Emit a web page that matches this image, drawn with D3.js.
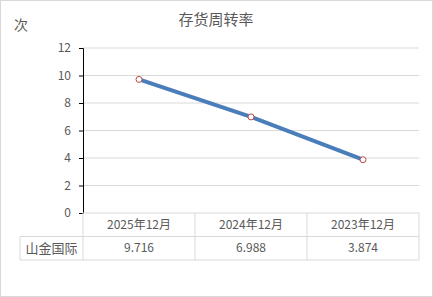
<!DOCTYPE html>
<html>
<head>
<meta charset="utf-8">
<script src="https://cdn.jsdelivr.net/npm/d3@7"></script>
<style>
  body { margin: 0; background: #fff; }
  text { font-family: "Noto Sans CJK SC", "Noto Sans", sans-serif; fill: #595959; }
</style>
</head>
<body>
<div id="chart"></div>
<script>
var categories = ["2025年12月", "2024年12月", "2023年12月"];
var values = [9.716, 6.988, 3.874];
var valueLabels = ["9.716", "6.988", "3.874"];
var seriesName = "山金国际";
var yTicks = [0, 2, 4, 6, 8, 10, 12];

var width = 433, height = 297;
var plotLeft = 83, plotRight = 419, plotTop = 48, plotBottom = 213;
var rowH = 23.5;

var svg = d3.select("#chart").append("svg")
    .attr("width", width)
    .attr("height", height);

svg.append("rect")
    .attr("x", 0.5).attr("y", 0.5)
    .attr("width", width - 1).attr("height", height - 1)
    .attr("fill", "#fff").attr("stroke", "#d9d9d9");

var x = d3.scaleBand().domain(categories).range([plotLeft, plotRight]);
var y = d3.scaleLinear().domain([0, 12]).range([plotBottom, plotTop]);

// gridlines
svg.selectAll(".grid")
    .data(yTicks.filter(function(d) { return d > 0; }))
    .enter().append("line")
    .attr("x1", plotLeft).attr("x2", plotRight)
    .attr("y1", function(d) { return y(d); })
    .attr("y2", function(d) { return y(d); })
    .attr("stroke", "#d9d9d9");

// y axis
var yAxis = d3.axisLeft(y).tickValues(yTicks).tickSize(4).tickPadding(8);
var ya = svg.append("g").attr("transform", "translate(" + plotLeft + ",0)").call(yAxis);
ya.select(".domain").attr("stroke", "#000");
ya.selectAll(".tick line").attr("stroke", "#000");
ya.selectAll(".tick text").style("font-size", "12px").style("fill", "#595959")
    .attr("font-family", "Noto Sans, sans-serif");

// table
var tableLeft = 20;
var g = svg.append("g");
g.append("line").attr("x1", plotLeft).attr("x2", plotRight).attr("y1", plotBottom).attr("y2", plotBottom).attr("stroke", "#d9d9d9");
g.append("line").attr("x1", tableLeft).attr("x2", plotRight).attr("y1", plotBottom + rowH).attr("y2", plotBottom + rowH).attr("stroke", "#d9d9d9");
g.append("line").attr("x1", tableLeft).attr("x2", plotRight).attr("y1", plotBottom + 2 * rowH).attr("y2", plotBottom + 2 * rowH).attr("stroke", "#d9d9d9");
g.append("line").attr("x1", tableLeft).attr("x2", tableLeft).attr("y1", plotBottom + rowH).attr("y2", plotBottom + 2 * rowH).attr("stroke", "#d9d9d9");
g.selectAll(".vline")
    .data(categories.map(function(c) { return x(c); }).concat([plotRight]))
    .enter().append("line")
    .attr("x1", function(d) { return d; }).attr("x2", function(d) { return d; })
    .attr("y1", plotBottom).attr("y2", plotBottom + 2 * rowH)
    .attr("stroke", "#d9d9d9");

g.selectAll(".cat")
    .data(categories)
    .enter().append("text")
    .attr("x", function(d) { return x(d) + x.bandwidth() / 2; })
    .attr("y", plotBottom + rowH / 2 + 4)
    .attr("text-anchor", "middle")
    .style("font-size", "12px")
    .text(function(d) { return d; });

g.selectAll(".val")
    .data(valueLabels)
    .enter().append("text")
    .attr("x", function(d, i) { return x(categories[i]) + x.bandwidth() / 2; })
    .attr("y", plotBottom + rowH * 1.5 + 4)
    .attr("text-anchor", "middle")
    .style("font-size", "12px")
    .text(function(d) { return d; });

g.append("text")
    .attr("x", (tableLeft + plotLeft) / 2)
    .attr("y", plotBottom + rowH * 1.5 + 5)
    .attr("text-anchor", "middle")
    .style("font-size", "13px")
    .text(seriesName);

// line
var line = d3.line()
    .x(function(d, i) { return x(categories[i]) + x.bandwidth() / 2; })
    .y(function(d) { return y(d); });

svg.append("path")
    .datum(values)
    .attr("d", line)
    .attr("fill", "none")
    .attr("stroke", "#4a7ebb")
    .attr("stroke-width", 4);

svg.selectAll(".pt")
    .data(values)
    .enter().append("circle")
    .attr("cx", function(d, i) { return x(categories[i]) + x.bandwidth() / 2; })
    .attr("cy", function(d) { return y(d); })
    .attr("r", 3)
    .attr("fill", "#fff")
    .attr("stroke", "#be4b48")
    .attr("stroke-width", 1);

// titles
svg.append("text")
    .attr("x", 216).attr("y", 25)
    .attr("text-anchor", "middle")
    .style("font-size", "15px")
    .text("存货周转率");

svg.append("text")
    .attr("x", 14).attr("y", 30)
    .style("font-size", "14px")
    .text("次");
</script>
</body>
</html>
